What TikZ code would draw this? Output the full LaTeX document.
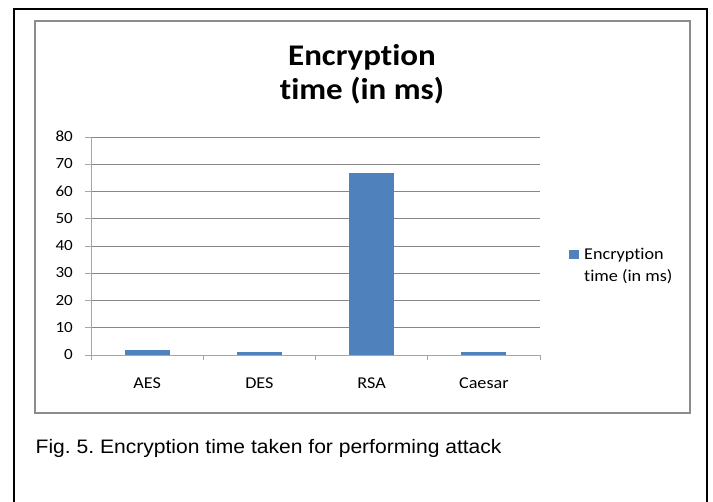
\documentclass[tikz,border=0pt]{standalone}
\usepackage{fontspec}
\newfontfamily\chartfont[FakeStretch=1.1,Ligatures=CommonOff]{Carlito}
\newfontfamily\capfont[FakeStretch=1.08]{Liberation Sans}
\definecolor{barblue}{HTML}{4F81BD}
\definecolor{gridgray}{HTML}{878787}
\definecolor{framegray}{HTML}{8C8C8C}
\definecolor{axisgray}{HTML}{A6A6A6}
\frenchspacing

\begin{document}
\begin{tikzpicture}[x=1pt,y=-1pt,
  chart frame/.style={draw=framegray,line width=1.2pt},
  grid line/.style={draw=gridgray,line width=0.9pt},
  axis line/.style={draw=axisgray,line width=0.9pt},
  bar/.style={fill=barblue},
  tick label/.style={font=\chartfont\fontsize{15.5}{15.5}\selectfont,anchor=base east,inner sep=0pt},
  cat label/.style={font=\chartfont\fontsize{16.5}{16.5}\selectfont,anchor=base,inner sep=0pt},
  legend text/.style={font=\chartfont\fontsize{16.5}{16.5}\selectfont,anchor=base west,inner sep=0pt},
  title line/.style={font=\chartfont\bfseries\fontsize{30}{30}\selectfont,anchor=base,inner sep=0pt}]
    \useasboundingbox (0,0) rectangle (713,502);
    \clip (0,0) rectangle (713,502);

    % page frame and chart area
    \draw[line width=2.3pt] (14,510) -- (14,9) -- (707,9) -- (707,510);
    \draw[chart frame] (35,21) rectangle (690,413);

    % title
    \node[title line] (title1) at (362,66) {Encryption};
    \node[title line] (title2) at (362,100) {time (in ms)};

    % grid and value axis
    \foreach \v in {0,10,...,80}{
        \pgfmathsetmacro{\yy}{355-2.725*\v}
        \draw[grid line] (91,\yy) -- (540,\yy);
        \draw[axis line] (85,\yy) -- (91,\yy);
        \node[tick label] (y\v) at (73,\yy+4.7) {\v};
    }
    \draw[axis line] (91,137) -- (91,360);

    % bars
    \foreach \name/\val [count=\i] in {AES/1.8,DES/1.1,RSA/66.9,Caesar/1.1}{
        \pgfmathsetmacro{\cx}{91+112.25*(\i-0.5)}
        \fill[bar] (\cx-22.5,355) rectangle (\cx+22.5,355-2.725*\val);
        \node[cat label] (c\i) at (\cx,389) {\name};
    }

    % category axis
    \draw[axis line] (91,355) -- (540,355);
    \foreach \x in {91,203.25,315.5,427.75,540}
        \draw[axis line] (\x,355) -- (\x,360);

    % legend
    \fill[bar] (569,250) rectangle (579,259);
    \node[legend text] (leg1) at (584,260) {Encryption};
    \node[legend text] (leg2) at (584,282) {time (in ms)};

    % caption
    \node[font=\capfont\fontsize{19.5}{19.5}\selectfont,anchor=base west,inner sep=0pt] (caption) at (35.5,454) {Fig. 5. Encryption time taken for performing attack};
\end{tikzpicture}
\end{document}
